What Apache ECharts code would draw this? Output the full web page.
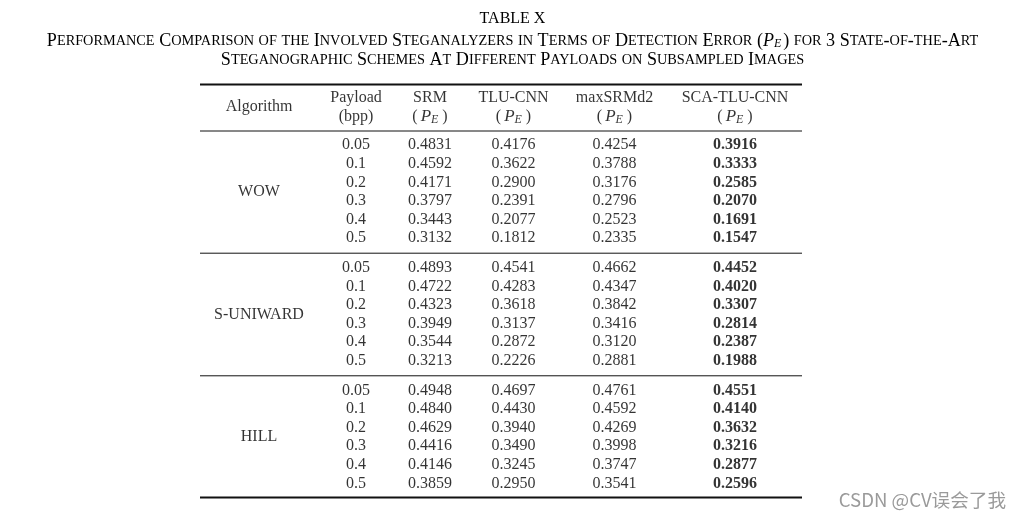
<!DOCTYPE html>
<html>
<head>
<meta charset="utf-8">
<script src="https://cdn.jsdelivr.net/npm/echarts@6/dist/echarts.min.js"></script>
<style>
html,body{margin:0;padding:0;background:#fff;}
#chart{width:1025px;height:519px;}
</style>
</head>
<body>
<div id="chart"></div>
<script>
// ---------------- DATA ----------------
var algorithms = ['WOW', 'S-UNIWARD', 'HILL'];
var payloads = [0.05, 0.1, 0.2, 0.3, 0.4, 0.5];
var methods = ['SRM', 'TLU-CNN', 'maxSRMd2', 'SCA-TLU-CNN'];
var srmPE = [
  [0.4831, 0.4592, 0.4171, 0.3797, 0.3443, 0.3132],
  [0.4893, 0.4722, 0.4323, 0.3949, 0.3544, 0.3213],
  [0.4948, 0.4840, 0.4629, 0.4416, 0.4146, 0.3859]
];
var tluCnnPE = [
  [0.4176, 0.3622, 0.2900, 0.2391, 0.2077, 0.1812],
  [0.4541, 0.4283, 0.3618, 0.3137, 0.2872, 0.2226],
  [0.4697, 0.4430, 0.3940, 0.3490, 0.3245, 0.2950]
];
var maxSRMd2PE = [
  [0.4254, 0.3788, 0.3176, 0.2796, 0.2523, 0.2335],
  [0.4662, 0.4347, 0.3842, 0.3416, 0.3120, 0.2881],
  [0.4761, 0.4592, 0.4269, 0.3998, 0.3747, 0.3541]
];
var scaTluCnnPE = [
  [0.3916, 0.3333, 0.2585, 0.2070, 0.1691, 0.1547],
  [0.4452, 0.4020, 0.3307, 0.2814, 0.2387, 0.1988],
  [0.4551, 0.4140, 0.3632, 0.3216, 0.2877, 0.2596]
];
var tableNumber = 'TABLE X';
var captionLine1 = ['Performance Comparison of the Involved Steganalyzers in Terms of Detection Error (', ') for 3 State-of-the-Art'];
var captionLine2 = 'Steganographic Schemes At Different Payloads on Subsampled Images';
var watermark = 'CSDN @CV误会了我';

// ---------------- LAYOUT ----------------
var W = 1025, H = 519;
var tableLeft = 200, tableRight = 802;
var colX = [259, 356, 430, 513.5, 614.5, 735];   // Algorithm, Payload, 4 methods
var headerY = 107;
var firstRowY = 145.2, rowStep = 18.6, groupStep = 122.6;
var rules = [
  {y: 84.5, w: 2},
  {y: 131, w: 1},
  {y: 253.2, w: 1},
  {y: 375.8, w: 1},
  {y: 497.5, w: 2}
];
var serif = 'Liberation Serif';

var methodValues = [srmPE, tluCnnPE, maxSRMd2PE, scaTluCnnPE];

function smallCaps(str, big, small) {
  var out = '', run = '', runType = null;
  function flush() {
    if (run) out += '{' + runType + '|' + (runType === small ? run.toUpperCase() : run) + '}';
    run = '';
  }
  for (var i = 0; i < str.length; i++) {
    var c = str[i];
    var t = (c >= 'a' && c <= 'z') ? small : big;
    if (t !== runType) { flush(); runType = t; }
    run += c;
  }
  flush();
  return out;
}

// ---------------- TEXT POINTS ----------------
var textPoints = [];
function addText(x, y, text) {
  textPoints.push({value: [x, y], label: {formatter: text}});
}
var mathPE = '{n|(}{it|P}{sub|E}{n|)}';
// header
addText(colX[0], headerY, '{n|Algorithm}');
addText(colX[1], headerY, '{n|Payload}\n{n|(bpp)}');
methods.forEach(function (m, k) {
  addText(colX[2 + k], headerY, '{n|' + m + '}\n' + mathPE);
});
// body
algorithms.forEach(function (alg, g) {
  var base = firstRowY + g * groupStep;
  addText(colX[0], base + 2.5 * rowStep, '{n|' + alg + '}');
  payloads.forEach(function (p, i) {
    var y = base + i * rowStep;
    addText(colX[1], y, '{n|' + String(p) + '}');
    methodValues.forEach(function (arr, k) {
      var style = (k === methodValues.length - 1) ? 'b' : 'n';
      addText(colX[2 + k], y, '{' + style + '|' + arr[g][i].toFixed(4) + '}');
    });
  });
});

var series = [{
  type: 'scatter',
  symbolSize: 1,
  itemStyle: {color: 'rgba(0,0,0,0)'},
  silent: true,
  animation: false,
  label: {
    show: true,
    position: 'inside',
    align: 'center',
    verticalAlign: 'middle',
    lineHeight: 19,
    rich: {
      n: {fontFamily: serif, fontSize: 16, color: '#000', lineHeight: 19},
      it: {fontFamily: serif, fontStyle: 'italic', fontSize: 17, color: '#000', lineHeight: 19, padding: [0, 0, 0, 3]},
      sub: {fontFamily: serif, fontStyle: 'italic', fontSize: 12, color: '#000', padding: [7, 4, 0, 0], lineHeight: 19},
      b: {fontFamily: serif, fontSize: 16, fontWeight: 'bold', color: '#000', lineHeight: 19}
    }
  },
  data: textPoints
}];
rules.forEach(function (r) {
  series.push({
    type: 'line',
    symbol: 'none',
    silent: true,
    animation: false,
    lineStyle: {color: '#111', width: r.w},
    data: [[tableLeft, r.y], [tableRight, r.y]]
  });
});

var capRich = {
  B: {fontFamily: serif, fontSize: 18.1, fontWeight: 'normal', color: '#000'},
  s: {fontFamily: serif, fontSize: 14.3, fontWeight: 'normal', color: '#000'},
  it: {fontFamily: serif, fontStyle: 'italic', fontSize: 18, fontWeight: 'normal', color: '#000'},
  sub: {fontFamily: serif, fontStyle: 'italic', fontSize: 12, fontWeight: 'normal', color: '#000', padding: [6, 2, 0, 0]}
};

var chart = echarts.init(document.getElementById('chart'), null, {renderer: 'canvas'});
chart.setOption({
  animation: false,
  backgroundColor: '#fff',
  title: [
    {text: tableNumber, left: 'center', top: 6,
     textStyle: {fontFamily: serif, fontSize: 16, fontWeight: 'normal', color: '#000'}},
    {text: smallCaps(captionLine1[0], 'B', 's') + '{it|P}{sub|E}' + smallCaps(captionLine1[1], 'B', 's'),
     left: 'center', top: 27, textStyle: {fontWeight: 'normal', rich: capRich}},
    {text: smallCaps(captionLine2, 'B', 's'), left: 'center', top: 46, textStyle: {fontWeight: 'normal', rich: capRich}},
    {text: watermark, right: 14, top: 486,
     textStyle: {fontFamily: 'Noto Sans CJK SC', fontSize: 18.6, fontWeight: 'normal', color: '#9a9a9a'}}
  ],
  grid: {left: 0, right: 0, top: 0, bottom: 0, containLabel: false},
  xAxis: {type: 'value', min: 0, max: W, show: false},
  yAxis: {type: 'value', min: 0, max: H, inverse: true, show: false},
  series: series
});
</script>
</body>
</html>
